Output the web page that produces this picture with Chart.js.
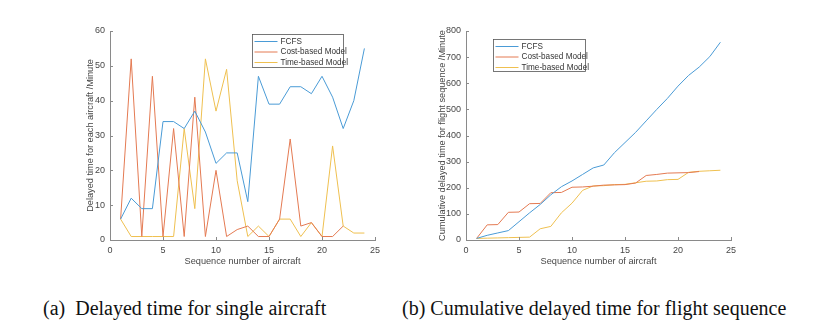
<!DOCTYPE html>
<html>
<head>
<meta charset="utf-8">
<script src="https://cdn.jsdelivr.net/npm/chart.js@4"></script>
<style>
  body { margin: 0; background: #fff; width: 839px; height: 330px; position: relative; overflow: hidden; }
  .box { position: absolute; }
  .cap { position: absolute; font-family: "Liberation Serif", "Times New Roman", serif; font-size: 20px; color: #111; white-space: pre; line-height: 22px; }
</style>
</head>
<body>
<div class="box" style="left:80px;top:0;width:310px;height:280px"><canvas id="singleChart"></canvas></div>
<div class="box" style="left:430px;top:0;width:320px;height:280px"><canvas id="cumChart"></canvas></div>
<div class="cap" style="left:43px;top:297px">(a)  Delayed time for single aircraft</div>
<div class="cap" style="left:402px;top:297px">(b) Cumulative delayed time for flight sequence</div>

<script>
// sequence numbers
const seq = [1, 2, 3, 4, 5, 6, 7, 8, 9, 10, 11, 12, 13, 14, 15, 16, 17, 18, 19, 20, 21, 22, 23, 24];
const seriesNames = ["FCFS", "Cost-based Model", "Time-based Model"];

// (a) delay of each aircraft, minutes
const fcfsDelay = [6, 12, 9, 9, 34, 34, 32, 37, 31, 22, 25, 25, 11, 47, 39, 39, 44, 44, 42, 47, 41, 32, 40, 55];
const costDelay = [6, 52, 1, 47, 1, 32, 1, 41, 1, 20, 1, 3, 4, 1, 1, 6, 29, 4, 5, 1, 1, 4];
const timeDelay = [6, 1, 1, 1, 1, 1, 32, 9, 52, 37, 49, 17, 1, 4, 1, 6, 6, 1, 5, 1, 27, 4, 2, 2];

// (b) cumulative delay, minutes
const fcfsCum = [6, 18, 27, 36, 70, 104, 136, 173, 204, 226, 251, 276, 287, 334, 373, 412, 456, 500, 542, 589, 630, 662, 702, 757];
const costCum = [6, 58, 59, 106, 107, 139, 140, 181, 182, 202, 203, 206, 210, 211, 212, 218, 247, 251, 256, 257, 258, 262];
const timeCum = [6, 7, 8, 9, 10, 11, 43, 52, 104, 141, 190, 207, 208, 212, 213, 219, 225, 226, 231, 232, 259, 263, 265, 267];

const xTicks = [0, 5, 10, 15, 20, 25];

const colors = ["#4A9BD6", "#E47A52", "#EFC050"];
const textColor = "#474747";
const axisColor = "#8a8a8a";
const fontFamily = "'Liberation Sans', Arial, sans-serif";

function points(arr) {
  return arr.map((v, i) => ({ x: seq[i], y: v }));
}

// MATLAB style: short tick marks pointing into the plot
const innerTicks = {
  id: "innerTicks",
  afterDatasetsDraw(chart) {
    const ctx = chart.ctx;
    const xs = chart.scales.x, ys = chart.scales.y;
    ctx.save();
    ctx.strokeStyle = axisColor;
    ctx.lineWidth = 1;
    ctx.beginPath();
    xs.ticks.forEach(t => {
      const px = Math.round(xs.getPixelForValue(t.value)) + 0.5;
      ctx.moveTo(px, ys.bottom);
      ctx.lineTo(px, ys.bottom - 3);
    });
    ys.ticks.forEach(t => {
      const py = Math.round(ys.getPixelForValue(t.value)) + 0.5;
      ctx.moveTo(xs.left, py);
      ctx.lineTo(xs.left + 3, py);
    });
    ctx.stroke();
    ctx.restore();
  }
};

// boxed legend inside the axes
const boxLegend = {
  id: "boxLegend",
  afterDraw(chart, args, opts) {
    const ctx = chart.ctx;
    const area = chart.chartArea;
    const bx = Math.round(area.left + opts.dx) + 0.5;
    const by = Math.round(area.top + opts.dy) + 0.5;
    ctx.save();
    ctx.fillStyle = "#fff";
    ctx.fillRect(bx, by, opts.w, opts.h);
    ctx.strokeStyle = "#555";
    ctx.lineWidth = 0.8;
    ctx.strokeRect(bx, by, opts.w, opts.h);
    ctx.font = "8.2px " + fontFamily;
    ctx.textBaseline = "middle";
    chart.data.datasets.forEach((ds, i) => {
      const y = by + 7 + i * 10.5;
      ctx.strokeStyle = ds.borderColor;
      ctx.lineWidth = 1;
      ctx.beginPath();
      ctx.moveTo(bx + 2, y);
      ctx.lineTo(bx + 25, y);
      ctx.stroke();
      ctx.fillStyle = "#333";
      ctx.fillText(ds.label, bx + 28, y);
    });
    ctx.restore();
  }
};

function makeChart(id, sets, yMax, yStep, yTitle, yAxisWidth, yTitlePad, padRight, legend) {
  return new Chart(document.getElementById(id), {
    type: "scatter",
    data: {
      datasets: sets.map((arr, i) => ({
        label: seriesNames[i],
        data: points(arr),
        showLine: true,
        borderColor: colors[i],
        backgroundColor: colors[i],
        borderWidth: 1,
        pointRadius: 0,
        tension: 0
      }))
    },
    options: {
      responsive: true,
      maintainAspectRatio: false,
      animation: false,
      layout: { padding: { top: 31, right: padRight, bottom: 0, left: 0 } },
      plugins: {
        legend: { display: false },
        tooltip: { enabled: false },
        boxLegend: legend
      },
      scales: {
        x: {
          type: "linear",
          min: 0,
          max: 25,
          afterBuildTicks: s => { s.ticks = xTicks.map(v => ({ value: v })); },
          afterFit: s => { s.height = 40; },
          grid: { drawOnChartArea: false, drawTicks: false },
          border: { color: axisColor, width: 1 },
          ticks: { color: textColor, font: { family: fontFamily, size: 9 }, padding: 5, maxRotation: 0 },
          title: {
            display: true,
            text: "Sequence number of aircraft",
            color: textColor,
            font: { family: fontFamily, size: 9.2 },
            padding: { top: 0, bottom: 13 }
          }
        },
        y: {
          min: 0,
          max: yMax,
          afterFit: s => { s.width = yAxisWidth; },
          grid: { drawOnChartArea: false, drawTicks: false },
          border: { color: axisColor, width: 1 },
          ticks: { stepSize: yStep, color: textColor, font: { family: fontFamily, size: 9 }, padding: 5 },
          title: {
            display: true,
            text: yTitle,
            color: textColor,
            font: { family: fontFamily, size: 9.2 },
            padding: { top: yTitlePad, bottom: 0 }
          }
        }
      }
    },
    plugins: [innerTicks, boxLegend]
  });
}

makeChart("singleChart", [fcfsDelay, costDelay, timeDelay], 60, 10,
  "Delayed time for each aircraft /Minute", 30, 4.5, 15,
  { dx: 142, dy: 3, w: 91, h: 33 });

makeChart("cumChart", [fcfsCum, costCum, timeCum], 800, 100,
  "Cumulative delayed time for flight sequence /Minute", 36, 6.5, 19,
  { dx: 27, dy: 8, w: 92, h: 32 });
</script>
</body>
</html>
